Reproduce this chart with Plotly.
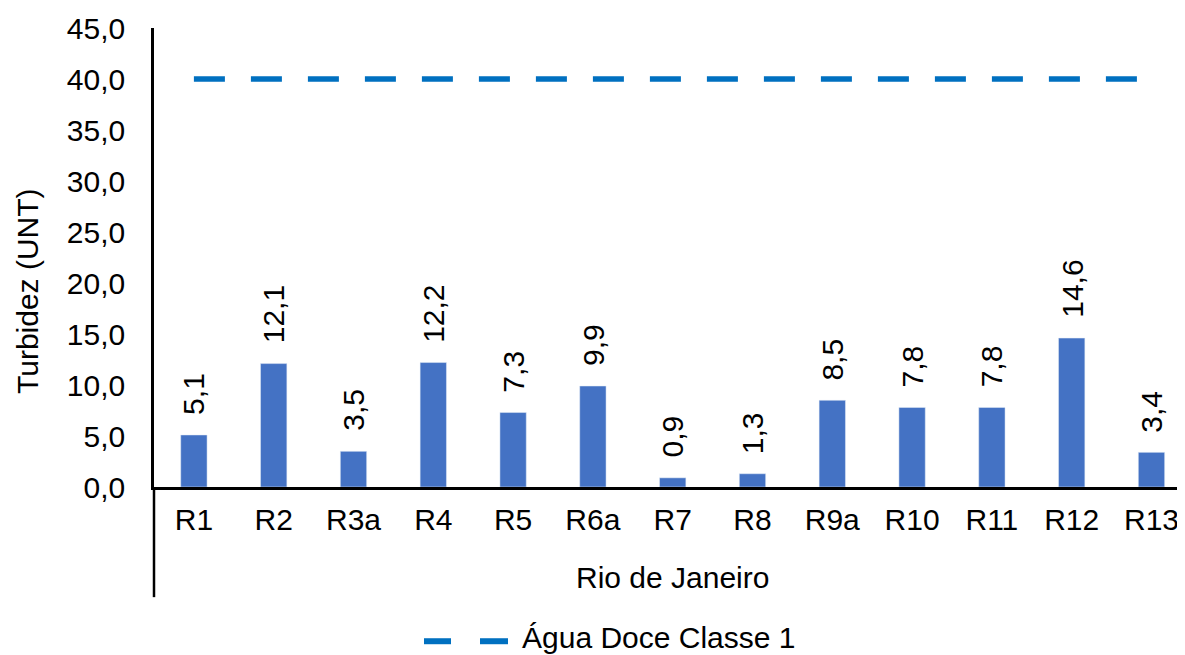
import plotly.graph_objects as go

categories = ["R1", "R2", "R3a", "R4", "R5", "R6a", "R7", "R8", "R9a", "R10", "R11", "R12", "R13"]
turbidez = [5.1, 12.1, 3.5, 12.2, 7.3, 9.9, 0.9, 1.3, 8.5, 7.8, 7.8, 14.6, 3.4]
limite_classe1 = [40.0] * len(categories)
y_ticks = [0, 5, 10, 15, 20, 25, 30, 35, 40, 45]
legend_label = "Água Doce Classe 1"

FONT = "Liberation Sans, Arial, sans-serif"
FS = 30
LINE_BLUE = "#0070C0"
PW = 1031  # plot width in px (for paper-coordinate decorations)
PL = 154   # screen x of plot left edge

fig = go.Figure()
fig.add_trace(go.Bar(
    x=categories, y=turbidez, marker_color="#4472C4", showlegend=False,
    name="Turbidez",
))
fig.add_trace(go.Scatter(
    x=categories, y=limite_classe1, mode="lines",
    line=dict(color=LINE_BLUE, width=5.5, dash="31px,26px"),
    name=legend_label, showlegend=False,
))

for c, v in zip(categories, turbidez):
    fig.add_annotation(
        x=c, y=v, xref="x", yref="y", text=f"{v:.1f}".replace(".", ","),
        textangle=-90, showarrow=False, yanchor="bottom", xanchor="center",
        yshift=18, font=dict(family=FONT, size=FS, color="#000000"),
    )

fig.add_annotation(
    x=(27 - PL) / PW, y=0.427, xref="paper", yref="paper", text="Turbidez (UNT)",
    textangle=-90, showarrow=False, xanchor="center", yanchor="middle",
    font=dict(family=FONT, size=FS, color="#000000"),
)
fig.add_annotation(
    x=0.503, y=-0.198, xref="paper", yref="paper", text="Rio de Janeiro",
    showarrow=False, xanchor="center", yanchor="middle",
    font=dict(family=FONT, size=FS, color="#000000"),
)
# y-axis line extension below the category axis
fig.add_shape(type="line", xref="paper", yref="paper", x0=0, x1=0, y0=0, y1=-0.24,
              line=dict(color="#000000", width=2.5))

# custom legend (dashed sample + label)
leg_y = -0.336
fig.add_shape(type="line", xref="paper", yref="paper", x0=(424 - PL) / PW, x1=(451 - PL) / PW,
              y0=leg_y, y1=leg_y, line=dict(color=LINE_BLUE, width=6))
fig.add_shape(type="line", xref="paper", yref="paper", x0=(480 - PL) / PW, x1=(508 - PL) / PW,
              y0=leg_y, y1=leg_y, line=dict(color=LINE_BLUE, width=6))
fig.add_annotation(
    x=(520 - PL) / PW, y=-0.328, xref="paper", yref="paper", text=legend_label,
    showarrow=False, xanchor="left", yanchor="middle",
    font=dict(family=FONT, size=FS, color="#000000"),
)

fig.update_layout(
    width=1177, height=647,
    margin=dict(l=146, r=0, t=20, b=168, autoexpand=False),
    plot_bgcolor="white", paper_bgcolor="white",
    separators=",.",
    bargap=0.67,
    showlegend=False,
    font=dict(family=FONT, size=FS, color="#000000"),
    xaxis=dict(type="category", range=[-0.5, 12.42], showline=True, linecolor="#000000",
               linewidth=2.5, ticks="outside", ticklen=4, tickcolor="rgba(0,0,0,0)",
               showgrid=False, automargin=False,
               tickfont=dict(family=FONT, size=FS, color="#000000")),
    yaxis=dict(range=[0, 45], tickvals=y_ticks, tickformat=".1f", showline=True,
               linecolor="#000000", linewidth=2.5, ticks="outside", ticklen=20,
               tickcolor="rgba(0,0,0,0)", showgrid=False, zeroline=False, automargin=False,
               tickfont=dict(family=FONT, size=FS, color="#000000")),
)

fig.write_html("out.html")
